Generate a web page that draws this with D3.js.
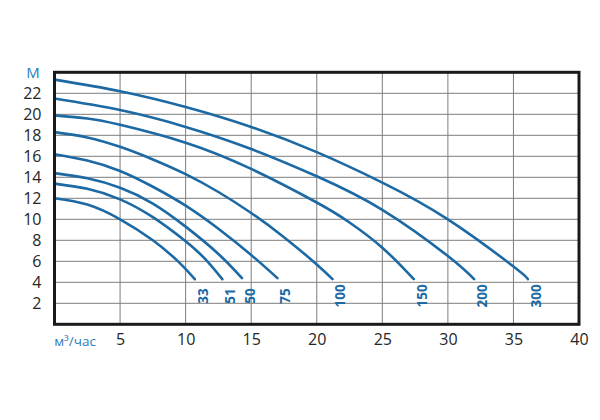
<!DOCTYPE html>
<html>
<head>
<meta charset="utf-8">
<script src="https://cdn.jsdelivr.net/npm/d3@7"></script>
<style>
  body { margin: 0; background: #fff; }
  text { font-family: "Open Sans", "DejaVu Sans", sans-serif; }
</style>
</head>
<body>
<div class="chart"></div>
<script>
// pump curves: flow (м³/час) vs head (м)
var curveNames = ["33", "51", "50", "75", "100", "150", "200", "300"];

var flow33 = [0, 2.5, 5, 7.5, 9.5, 10.7];
var head33 = [12.0, 11.4, 10.0, 8.0, 5.9, 4.3];

var flow51 = [0, 2.5, 5, 7.5, 10, 11.5, 12.8];
var head51 = [13.4, 12.9, 11.9, 10.2, 7.9, 6.2, 4.3];

var flow50 = [0, 2.5, 5, 7.5, 10, 12.5, 14.3];
var head50 = [14.4, 13.9, 13.0, 11.5, 9.3, 6.7, 4.4];

var flow75 = [0, 2.5, 5, 7.5, 10, 12.5, 15, 17];
var head75 = [16.2, 15.6, 14.6, 13.1, 11.3, 9.1, 6.6, 4.4];

var flow100 = [0, 2.5, 5, 7.5, 10, 12.5, 15, 17.5, 20, 21.2];
var head100 = [18.3, 17.8, 16.9, 15.7, 14.3, 12.6, 10.6, 8.3, 5.7, 4.3];

var flow150 = [0, 2.5, 5, 10, 15, 20, 22.5, 25, 27.4];
var head150 = [19.9, 19.6, 19.0, 17.3, 14.8, 11.6, 9.7, 7.3, 4.3];

var flow200 = [0, 5, 10, 15, 20, 25, 30, 32.0];
var head200 = [21.5, 20.4, 18.8, 16.7, 14.1, 10.9, 6.5, 4.3];

var flow300 = [0, 5, 10, 15, 20, 25, 30, 35, 36.1];
var head300 = [23.3, 22.2, 20.7, 18.8, 16.4, 13.5, 10.0, 5.5, 4.3];

var xTicks = [5, 10, 15, 20, 25, 30, 35, 40];
var yTicks = [2, 4, 6, 8, 10, 12, 14, 16, 18, 20, 22];
var xGrid = [5, 10, 15, 20, 25, 30, 35];

var flows = [flow33, flow51, flow50, flow75, flow100, flow150, flow200, flow300];
var heads = [head33, head51, head50, head75, head100, head150, head200, head300];

var series = curveNames.map(function(name, i) {
    return {
        name: name,
        points: flows[i].map(function(q, j) { return [q, heads[i][j]]; })
    };
});

var svgWidth = 600;
var svgHeight = 420;
var blue = "#1c69a3";
var lightBlue = "#2b7cc0";

var svg = d3.select(".chart")
    .append("svg")
    .attr("width", svgWidth)
    .attr("height", svgHeight);

var x = d3.scaleLinear().domain([0, 40]).range([54.5, 579]);
var y = d3.scaleLinear().domain([0, 24]).range([324.3, 72.3]);

// grid
svg.append("g")
    .selectAll("line")
    .data(xGrid)
    .enter()
    .append("line")
    .attr("x1", d => x(d))
    .attr("x2", d => x(d))
    .attr("y1", y(0))
    .attr("y2", y(24))
    .attr("stroke", "#7d7d7d")
    .attr("stroke-width", 1);

svg.append("g")
    .selectAll("line")
    .data(yTicks)
    .enter()
    .append("line")
    .attr("x1", x(0))
    .attr("x2", x(40))
    .attr("y1", d => y(d))
    .attr("y2", d => y(d))
    .attr("stroke", "#7d7d7d")
    .attr("stroke-width", 1);

// axes (ticks hidden, labels only)
var leftAxis = d3.axisLeft(y).tickValues(yTicks).tickSize(0).tickPadding(13);
var bottomAxis = d3.axisBottom(x).tickValues(xTicks).tickSize(0).tickPadding(9);

var yAxisG = svg.append("g")
    .attr("transform", `translate(${x(0)}, 0)`)
    .call(leftAxis);

var xAxisG = svg.append("g")
    .attr("transform", `translate(0, ${y(0)})`)
    .call(bottomAxis);

[yAxisG, xAxisG].forEach(function(g) {
    g.select(".domain").remove();
    g.selectAll("text")
        .attr("font-family", "'Open Sans', sans-serif")
        .attr("font-size", 16)
        .attr("fill", "#262626");
});

// curves
var line = d3.line()
    .x(d => x(d[0]))
    .y(d => y(d[1]))
    .curve(d3.curveNatural);

svg.append("g")
    .selectAll("path")
    .data(series)
    .enter()
    .append("path")
    .attr("d", d => line(d.points))
    .attr("fill", "none")
    .attr("stroke", blue)
    .attr("stroke-width", 2.6)
    .attr("stroke-linecap", "round");

// curve labels, rotated
svg.append("g")
    .selectAll("text")
    .data(series)
    .enter()
    .append("text")
    .attr("transform", function(d) {
        var last = d.points[d.points.length - 1];
        return `translate(${x(last[0]) + 8}, ${y(2.7)}) rotate(-90)`;
    })
    .attr("text-anchor", "middle")
    .attr("dominant-baseline", "central")
    .attr("font-size", 13.5)
    .attr("font-weight", "bold")
    .attr("fill", blue)
    .text(d => d.name);

// frame
svg.append("rect")
    .attr("x", x(0))
    .attr("y", y(24))
    .attr("width", x(40) - x(0))
    .attr("height", y(0) - y(24))
    .attr("fill", "none")
    .attr("stroke", "#1a1a1a")
    .attr("stroke-width", 3);

// unit labels
svg.append("text")
    .attr("x", 33)
    .attr("y", 78)
    .attr("text-anchor", "middle")
    .attr("font-size", 15)
    .attr("fill", lightBlue)
    .text("М");

svg.append("text")
    .attr("x", 75)
    .attr("y", 346)
    .attr("text-anchor", "middle")
    .attr("font-size", 13.5)
    .attr("fill", lightBlue)
    .text("м³/час");
</script>
</body>
</html>
